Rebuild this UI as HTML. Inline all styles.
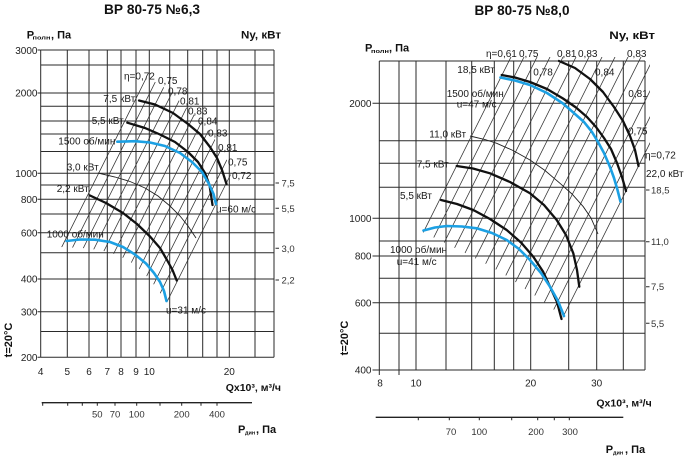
<!DOCTYPE html>
<html><head><meta charset="utf-8"><style>
html,body{margin:0;padding:0;background:#fff;}
svg{display:block;font-family:"Liberation Sans",Arial,sans-serif;}
.g{stroke:#2a2a2a;stroke-width:1;fill:none;}
.h{stroke:#333;stroke-width:0.75;fill:none;}
.k{stroke:#111;stroke-width:2.3;fill:none;stroke-linejoin:round;stroke-linecap:round;}
.b{stroke:#1ca0e3;stroke-width:2.6;fill:none;stroke-linejoin:round;stroke-linecap:round;}
.t{stroke:#222;stroke-width:0.9;fill:none;}
.l{font-size:10px;fill:#1a1a1a;}
.n{font-size:10px;fill:#222;}
.s{font-size:9.5px;fill:#333;}
.bt{font-weight:bold;fill:#111;}
</style></head><body>
<svg width="692" height="464" viewBox="0 0 692 464" xmlns="http://www.w3.org/2000/svg">
<defs>
<clipPath id="cl"><polygon points="145.3,78 160,84 170,93 182,103 191,112 202,122 212,135 221,149 229,164 231,177 168.5,304 160,293 152,282 143,272 132,263 118,255 100,250 82,248 60.5,247"/></clipPath>
<clipPath id="cr"><polygon points="510,57 650,57 650,145 563.5,318 565,319 553,309 540,299 525,289 510,278 490,266 465,253 445,243 422.5,232"/></clipPath>
</defs>

<!-- ============ LEFT CHART ============ -->
<text x="152" y="14" text-anchor="middle" class="bt" font-size="13.5" textLength="96" lengthAdjust="spacingAndGlyphs">ВР 80-75 №6,3</text>
<text x="26.7" y="38.3" class="bt" font-size="11">P</text>
<text x="32.5" y="39.5" class="bt" font-size="5.5" textLength="18" lengthAdjust="spacingAndGlyphs">полн</text>
<text x="51" y="38.3" class="bt" font-size="11">, Па</text>
<text x="241" y="38.3" class="bt" font-size="11" textLength="40" lengthAdjust="spacingAndGlyphs">Ny, кВт</text>

<!-- grid -->
<g class="g">
<path d="M40.7,50V357.3M67.3,50V357.3M89,50V357.3M107.3,50V357.3M121,50V357.3M136,50V357.3M149.3,50V357.3M169.7,50V357.3M187.7,50V357.3M202.7,50V357.3M217,50V357.3M229.3,50V357.3M255,50V357.3M274,50V357.3"/>
<path d="M40.7,50H274M40.7,65H274M40.7,93H274M40.7,106.3H274M40.7,121H274M40.7,134H274M40.7,151.5H274M40.7,173.3H274M40.7,185H274M40.7,199.3H274M40.7,214H274M40.7,232.7H274M40.7,252.7H274M40.7,279H274M40.7,311.7H274M40.7,331.5H274M40.7,357.3H274"/>
<path d="M37.5,50H40.7M37.5,93H40.7M37.5,173.3H40.7M37.5,199.3H40.7M37.5,232.7H40.7M37.5,279H40.7M37.5,311.7H40.7M37.5,357.3H40.7"/>
<path d="M275.5,183H279M275.5,208.3H279M275.5,248.3H279M275.5,280H279"/>
</g>
<g class="n" text-anchor="end" font-size="10.5">
<text x="37.5" y="54">3000</text><text x="37.5" y="96.7">2000</text><text x="37.5" y="177">1000</text><text x="37.5" y="203">800</text><text x="37.5" y="236.4">600</text><text x="37.5" y="282.7">400</text><text x="37.5" y="315.4">300</text><text x="37.5" y="361">200</text>
</g>
<g class="s">
<text x="281.5" y="186.5">7,5</text><text x="281.5" y="211.8">5,5</text><text x="281.5" y="251.8">3,0</text><text x="281.5" y="283.5">2,2</text>
</g>

<!-- hatch -->
<g class="h" clip-path="url(#cl)">
<path d="M150.25,70L30.25,310M161.3,70L41.3,310M172.35,70L52.35,310M183.4,70L63.4,310M194.45,70L74.45,310M205.5,70L85.5,310M216.55,70L96.55,310M227.6,70L107.6,310M238.65,70L118.65,310M249.7,70L129.7,310M260.75,70L140.75,310M271.8,70L151.8,310M282.9,70L162.9,310"/>
</g>
<!-- curves -->
<polyline class="t" points="98,173 115,177 130,181.5 145,188 158,196 170,206 180,216 188,226 196,238"/>
<polyline class="k" points="139,100.5 155,104.5 173,113 188,124 200,134 210,147 217,158 222,170 226.5,184"/>
<polyline class="k" points="127.3,122.7 145,128 160,134.5 175,142 188,152 198,162 205,173 209.5,185 212.5,205"/>
<polyline class="b" points="117.3,141.7 135,141.2 150,142.5 165,146 180,153 192,162 202,172 209,184 213.5,194 216,204"/>
<polyline class="k" points="90,195.5 106,203 123,213 137,224 150,236.5 160,248 167,260 172.5,270 176.7,280.5"/>
<polyline class="b" points="66.5,241 80,239.5 95,239.7 110,242 123,247 135,254.5 146,263.5 154,273 160,282 164,291 166.5,301"/>

<g class="l">
<text x="124" y="79.5">η=0,72</text>
<text x="158" y="84">0,75</text>
<text x="168" y="94.5">0,78</text>
<text x="180" y="104.5">0,81</text>
<text x="188" y="114.5">0,83</text>
<text x="198" y="124.5">0,84</text>
<text x="208" y="136.5">0,83</text>
<text x="218" y="151">0,81</text>
<text x="228" y="165.5">0,75</text>
<text x="232" y="179">0,72</text>
<text x="103.3" y="102">7,5 кВт</text>
<text x="91.7" y="124">5,5 кВт</text>
<text x="58.3" y="144.5">1500 об/мин</text>
<text x="66.7" y="170.5">3,0 кВт</text>
<text x="56.7" y="192">2,2 кВт</text>
<text x="46.7" y="237.5">1000 об/мин</text>
<text x="216" y="212.5">u=60 м/с</text>
<text x="166" y="313.5">u=31 м/с</text>
</g>

<!-- x axis -->
<g class="n" text-anchor="middle">
<text x="40.7" y="375">4</text><text x="67.3" y="375">5</text><text x="89" y="375">6</text><text x="107.3" y="375">7</text><text x="121" y="375">8</text><text x="136" y="375">9</text><text x="149.3" y="375">10</text><text x="229.3" y="375">20</text>
</g>
<text x="281" y="391" text-anchor="end" class="bt" font-size="10.5">Qx10³, м³/ч</text>
<g stroke="#222" fill="none">
<path d="M41.7,402.7H252" stroke-width="1.3"/>
<path d="M42.7,402.7v3M67.7,402.7v3M82.3,402.7v3M97.3,402.7v3M115,402.7v3M136.7,402.7v3M160,402.7v3M181.7,402.7v3M201,402.7v3M217,402.7v3" stroke-width="1"/>
</g>
<g class="s" text-anchor="middle">
<text x="97.3" y="417.3">50</text><text x="115" y="417.3">70</text><text x="136.7" y="417.3">100</text><text x="181.7" y="417.3">200</text><text x="217" y="417.3">400</text>
</g>
<text x="238" y="433" class="bt" font-size="11">P</text>
<text x="245" y="434.5" class="bt" font-size="5.5">дин</text>
<text x="256" y="433" class="bt" font-size="11">, Па</text>
<text transform="translate(12,340) rotate(-90)" text-anchor="middle" class="bt" font-size="11">t=20°C</text>

<!-- ============ RIGHT CHART ============ -->
<text x="522" y="15" text-anchor="middle" class="bt" font-size="13.5" textLength="95" lengthAdjust="spacingAndGlyphs">ВР 80-75 №8,0</text>
<text x="365" y="51.7" class="bt" font-size="11">P</text>
<text x="371" y="53" class="bt" font-size="5.5" textLength="18" lengthAdjust="spacingAndGlyphs">полн</text>
<text x="389" y="51.7" class="bt" font-size="11">, Па</text>
<text x="609.3" y="39" class="bt" font-size="11" textLength="45.7" lengthAdjust="spacingAndGlyphs">Ny, кВт</text>

<g class="g">
<path d="M379.3,61V370M399,61V370M416,61V370M446,61V370M471.7,61V370M494.3,61V370M513.7,61V370M530.7,61V370M568.7,61V370M596.7,61V370M623.3,61V370M645,61V370"/>
<path d="M379.3,61H645M379.3,103.3H645M379.3,140.7H645M379.3,163.3H645M379.3,187.3H645M379.3,218.3H645M379.3,241H645M379.3,256H645M379.3,278.3H645M379.3,302.7H645M379.3,333.3H645M379.3,370H645"/>
<path d="M372.5,103.3H379.3M372.5,218.3H379.3M372.5,256H379.3M372.5,302.7H379.3M372.5,370H379.3"/>
<path d="M379.3,370V375M399,370V375"/>
<path d="M646,190H649.5M646,241.7H649.5M646,286.7H649.5M646,323.3H649.5"/>
</g>
<g class="n" text-anchor="end" font-size="10.5">
<text x="371.5" y="107">2000</text><text x="371.5" y="222">1000</text><text x="371.5" y="259.7">800</text><text x="371.5" y="306.4">600</text><text x="371.5" y="373.7">400</text>
</g>
<g class="s">
<text x="651" y="193.5">18,5</text><text x="651" y="245.2">11,0</text><text x="651" y="290.2">7,5</text><text x="651" y="326.8">5,5</text>
</g>

<g class="h" clip-path="url(#cr)">
<path d="M514.5,50L374.5,330M527.5,50L387.5,330M540.5,50L400.5,330M553.5,50L413.5,330M566.5,50L426.5,330M579.5,50L439.5,330M592.5,50L452.5,330M605.5,50L465.5,330M618.5,50L478.5,330M631.5,50L491.5,330M644.5,50L504.5,330M657.5,50L517.5,330M670.5,50L530.5,330M683.5,50L543.5,330M696.5,50L556.5,330"/>
</g>

<polyline class="t" points="470,136 485,139.5 496.7,143.3 513,150.5 530,160 545,170.5 560,183.3 572,194 583.3,206.7 591,218 598,234"/>
<polyline class="k" points="559,61 575,68 590,79 603,92 614,107 623,121 630,136 635,150 638.5,166"/>
<polyline class="b" points="500.5,77.5 515,80.5 530,85 547,93 563,103.5 575,114 584,122 592,132 598,142 604,153 610,167 614,178 617.5,190 620.5,201.7"/>
<polyline class="k" points="501.7,75 515,77.5 530,82 547,89 563,98.5 576,107.5 587,117 596,127 604,138 611,149 617,163 622,177 626,191"/>
<polyline class="k" points="456.7,166 473,168.5 490,173.3 510,182 530,193.3 544,205 556.7,220 566,235 573.3,253.3 577,270 579.3,286.7"/>
<polyline class="k" points="441,200 457,204 473.3,210 490,219 506.7,230 521,242.5 533.3,256.7 543,271.5 550,286.7 557,302 561.5,319"/>
<polyline class="b" points="423.5,230.5 435,227.5 446.7,226 462,226.5 476.7,228.3 492,233 506.7,240 519,249 530,260 541,273 550,286.7 558,301 564,316"/>

<g class="l">
<text x="486" y="57">η=0,61</text>
<text x="519" y="57">0,75</text>
<text x="557" y="57">0,81</text>
<text x="578" y="57">0,83</text>
<text x="627" y="57">0,83</text>
<text x="533.3" y="75.5">0,78</text>
<text x="595" y="75.5">0,84</text>
<text x="628.3" y="97">0,81</text>
<text x="628" y="134.5">0,75</text>
<text x="645" y="158.5">η=0,72</text>
<text x="646" y="177">22,0 кВт</text>
<text x="457.3" y="73">18,5 кВт</text>
<text x="446.7" y="97">1500 об/мин</text>
<text x="456.7" y="107.5">u=47 м/с</text>
<text x="429.3" y="137.5">11,0 кВт</text>
<text x="416.7" y="167.5">7,5 кВт</text>
<text x="400" y="199">5,5 кВт</text>
<text x="390" y="253">1000 об/мин</text>
<text x="396.7" y="265">u=41 м/с</text>
</g>

<g class="n" text-anchor="middle">
<text x="380" y="386.5">8</text><text x="416" y="386.5">10</text><text x="530.7" y="386.5">20</text><text x="596.7" y="386.5">30</text>
</g>
<text x="651.7" y="406.5" text-anchor="end" class="bt" font-size="10.5">Qx10³, м³/ч</text>
<g stroke="#222" fill="none">
<path d="M375.7,417.3H623.3" stroke-width="1.3"/>
<path d="M418.3,417.3v3M449.3,417.3v3M479.3,417.3v3M511.7,417.3v3M537.7,417.3v3M554.3,417.3v3M569.3,417.3v3" stroke-width="1"/>
</g>
<g class="s" text-anchor="middle">
<text x="451" y="435">70</text><text x="479.3" y="435">100</text><text x="536" y="435">200</text><text x="570" y="435">300</text>
</g>
<text x="605.7" y="453" class="bt" font-size="11">P</text>
<text x="613" y="454.5" class="bt" font-size="5.5">дин</text>
<text x="625" y="453" class="bt" font-size="11">, Па</text>
<text transform="translate(348,338) rotate(-90)" text-anchor="middle" class="bt" font-size="11">t=20°C</text>
</svg>
</body></html>
